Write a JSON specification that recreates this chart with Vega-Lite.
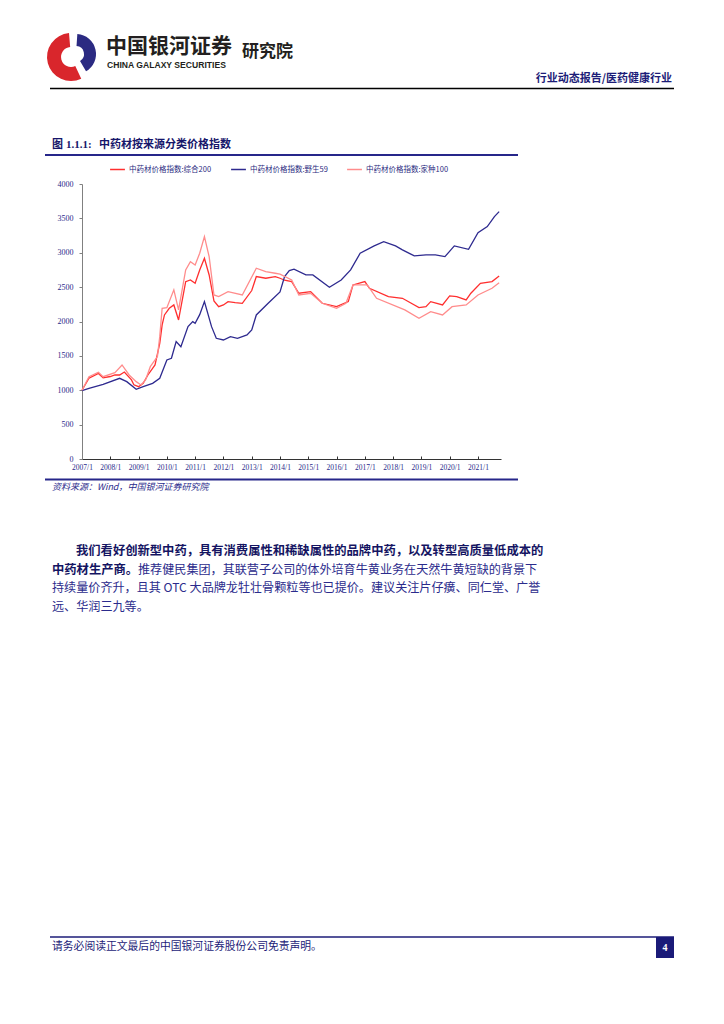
{
  "$schema": "https://vega.github.io/schema/vega-lite/v6.json",
  "width": 724,
  "height": 1024,
  "padding": 0,
  "autosize": "none",
  "background": "white",
  "config": {"view": {"stroke": null}},
  "data": {"values": [{}]},
  "layer": [
    {
      "mark": {"type": "arc", "innerRadius": 10, "outerRadius": 24, "theta": 2.7, "theta2": 6.2, "color": "#d9262c"},
      "encoding": {"x": {"value": 71}, "y": {"value": 57}}
    },
    {
      "mark": {"type": "arc", "innerRadius": 8, "outerRadius": 20, "theta": 6.35, "theta2": 8.9, "color": "#2b2a82"},
      "encoding": {"x": {"value": 76}, "y": {"value": 54}}
    },
    {
      "mark": {"type": "text", "text": "中国银河证券", "align": "left", "baseline": "middle", "font": "Noto Sans CJK SC", "fontSize": 21, "fontWeight": "bold", "color": "#231f20"},
      "encoding": {"x": {"value": 106}, "y": {"value": 47}}
    },
    {
      "mark": {"type": "text", "text": "研究院", "align": "left", "baseline": "middle", "font": "Noto Sans CJK SC", "fontSize": 17, "fontWeight": "bold", "color": "#231f20"},
      "encoding": {"x": {"value": 242}, "y": {"value": 52}}
    },
    {
      "mark": {"type": "text", "text": "CHINA GALAXY SECURITIES", "align": "left", "baseline": "middle", "font": "Liberation Sans", "fontSize": 8.6, "fontWeight": "bold", "color": "#231f20"},
      "encoding": {"x": {"value": 107}, "y": {"value": 64.5}}
    },
    {
      "mark": {"type": "text", "text": "行业动态报告/医药健康行业", "align": "right", "baseline": "middle", "font": "Noto Sans CJK SC", "fontSize": 11, "fontWeight": "bold", "color": "#1c1c78"},
      "encoding": {"x": {"value": 672}, "y": {"value": 79}}
    },
    {
      "mark": {"type": "rule", "color": "#000000", "strokeWidth": 1.5},
      "encoding": {"x": {"value": 50}, "x2": {"value": 674}, "y": {"value": 88.5}}
    },
    {
      "mark": {"type": "text", "text": "图", "align": "left", "baseline": "middle", "font": "Noto Sans CJK SC", "fontSize": 11, "fontWeight": "bold", "color": "#16166a"},
      "encoding": {"x": {"value": 52}, "y": {"value": 145}}
    },
    {
      "mark": {"type": "text", "text": "1.1.1:", "align": "left", "baseline": "middle", "font": "Liberation Serif", "fontSize": 11, "fontWeight": "bold", "color": "#16166a"},
      "encoding": {"x": {"value": 66}, "y": {"value": 145}}
    },
    {
      "mark": {"type": "text", "text": "中药材按来源分类价格指数", "align": "left", "baseline": "middle", "font": "Noto Sans CJK SC", "fontSize": 11, "fontWeight": "bold", "color": "#16166a"},
      "encoding": {"x": {"value": 99}, "y": {"value": 145}}
    },
    {
      "mark": {"type": "rule", "color": "#26268a", "strokeWidth": 2},
      "encoding": {"x": {"value": 45}, "x2": {"value": 518}, "y": {"value": 155}}
    },
    {
      "mark": {"type": "rule", "color": "#26268a", "strokeWidth": 2},
      "encoding": {"x": {"value": 45}, "x2": {"value": 518}, "y": {"value": 479.5}}
    },
    {
      "mark": {"type": "text", "text": "资料来源：Wind，中国银河证券研究院", "align": "left", "baseline": "middle", "font": "Noto Sans CJK SC", "fontSize": 9, "fontStyle": "italic", "color": "#2b2b8c"},
      "encoding": {"x": {"value": 52}, "y": {"value": 487}}
    },
    {
      "data": {
        "values": [
          {"date": "2007-01-01", "series": "中药材价格指数:综合200", "value": 1000},
          {"date": "2007-04-01", "series": "中药材价格指数:综合200", "value": 1174},
          {"date": "2007-08-01", "series": "中药材价格指数:综合200", "value": 1245},
          {"date": "2007-10-01", "series": "中药材价格指数:综合200", "value": 1180},
          {"date": "2008-01-01", "series": "中药材价格指数:综合200", "value": 1200},
          {"date": "2008-03-01", "series": "中药材价格指数:综合200", "value": 1222},
          {"date": "2008-05-01", "series": "中药材价格指数:综合200", "value": 1222},
          {"date": "2008-07-01", "series": "中药材价格指数:综合200", "value": 1265},
          {"date": "2008-10-01", "series": "中药材价格指数:综合200", "value": 1150},
          {"date": "2008-11-01", "series": "中药材价格指数:综合200", "value": 1080},
          {"date": "2009-01-01", "series": "中药材价格指数:综合200", "value": 1052},
          {"date": "2009-03-01", "series": "中药材价格指数:综合200", "value": 1100},
          {"date": "2009-05-01", "series": "中药材价格指数:综合200", "value": 1222},
          {"date": "2009-08-01", "series": "中药材价格指数:综合200", "value": 1368},
          {"date": "2009-10-01", "series": "中药材价格指数:综合200", "value": 1683},
          {"date": "2009-11-01", "series": "中药材价格指数:综合200", "value": 1950},
          {"date": "2009-12-01", "series": "中药材价格指数:综合200", "value": 2095},
          {"date": "2010-02-01", "series": "中药材价格指数:综合200", "value": 2192},
          {"date": "2010-04-01", "series": "中药材价格指数:综合200", "value": 2241},
          {"date": "2010-06-01", "series": "中药材价格指数:综合200", "value": 2022},
          {"date": "2010-09-01", "series": "中药材价格指数:综合200", "value": 2580},
          {"date": "2010-11-01", "series": "中药材价格指数:综合200", "value": 2604},
          {"date": "2011-01-01", "series": "中药材价格指数:综合200", "value": 2556},
          {"date": "2011-03-01", "series": "中药材价格指数:综合200", "value": 2750},
          {"date": "2011-05-01", "series": "中药材价格指数:综合200", "value": 2920},
          {"date": "2011-07-01", "series": "中药材价格指数:综合200", "value": 2677},
          {"date": "2011-09-01", "series": "中药材价格指数:综合200", "value": 2300},
          {"date": "2011-11-01", "series": "中药材价格指数:综合200", "value": 2216},
          {"date": "2012-01-01", "series": "中药材价格指数:综合200", "value": 2241},
          {"date": "2012-03-01", "series": "中药材价格指数:综合200", "value": 2289},
          {"date": "2012-06-01", "series": "中药材价格指数:综合200", "value": 2275},
          {"date": "2012-09-01", "series": "中药材价格指数:综合200", "value": 2265},
          {"date": "2013-01-01", "series": "中药材价格指数:综合200", "value": 2450},
          {"date": "2013-03-01", "series": "中药材价格指数:综合200", "value": 2653},
          {"date": "2013-07-01", "series": "中药材价格指数:综合200", "value": 2629},
          {"date": "2013-11-01", "series": "中药材价格指数:综合200", "value": 2653},
          {"date": "2014-01-01", "series": "中药材价格指数:综合200", "value": 2629},
          {"date": "2014-03-01", "series": "中药材价格指数:综合200", "value": 2600},
          {"date": "2014-06-01", "series": "中药材价格指数:综合200", "value": 2580},
          {"date": "2014-09-01", "series": "中药材价格指数:综合200", "value": 2411},
          {"date": "2015-02-01", "series": "中药材价格指数:综合200", "value": 2435},
          {"date": "2015-07-01", "series": "中药材价格指数:综合200", "value": 2265},
          {"date": "2016-01-01", "series": "中药材价格指数:综合200", "value": 2216},
          {"date": "2016-06-01", "series": "中药材价格指数:综合200", "value": 2289},
          {"date": "2016-08-01", "series": "中药材价格指数:综合200", "value": 2532},
          {"date": "2017-01-01", "series": "中药材价格指数:综合200", "value": 2580},
          {"date": "2017-03-01", "series": "中药材价格指数:综合200", "value": 2483},
          {"date": "2017-11-01", "series": "中药材价格指数:综合200", "value": 2362},
          {"date": "2018-05-01", "series": "中药材价格指数:综合200", "value": 2338},
          {"date": "2018-12-01", "series": "中药材价格指数:综合200", "value": 2202},
          {"date": "2019-03-01", "series": "中药材价格指数:综合200", "value": 2216},
          {"date": "2019-05-01", "series": "中药材价格指数:综合200", "value": 2289},
          {"date": "2019-10-01", "series": "中药材价格指数:综合200", "value": 2241},
          {"date": "2020-01-01", "series": "中药材价格指数:综合200", "value": 2372},
          {"date": "2020-04-01", "series": "中药材价格指数:综合200", "value": 2362},
          {"date": "2020-08-01", "series": "中药材价格指数:综合200", "value": 2313},
          {"date": "2020-10-01", "series": "中药材价格指数:综合200", "value": 2411},
          {"date": "2021-02-01", "series": "中药材价格指数:综合200", "value": 2556},
          {"date": "2021-07-01", "series": "中药材价格指数:综合200", "value": 2580},
          {"date": "2021-10-01", "series": "中药材价格指数:综合200", "value": 2663},
          {"date": "2007-01-01", "series": "中药材价格指数:野生59", "value": 994},
          {"date": "2007-04-01", "series": "中药材价格指数:野生59", "value": 1028},
          {"date": "2007-10-01", "series": "中药材价格指数:野生59", "value": 1086},
          {"date": "2008-05-01", "series": "中药材价格指数:野生59", "value": 1174},
          {"date": "2008-08-01", "series": "中药材价格指数:野生59", "value": 1125},
          {"date": "2008-12-01", "series": "中药材价格指数:野生59", "value": 1014},
          {"date": "2009-03-01", "series": "中药材价格指数:野生59", "value": 1052},
          {"date": "2009-07-01", "series": "中药材价格指数:野生59", "value": 1101},
          {"date": "2009-10-01", "series": "中药材价格指数:野生59", "value": 1174},
          {"date": "2010-01-01", "series": "中药材价格指数:野生59", "value": 1440},
          {"date": "2010-03-01", "series": "中药材价格指数:野生59", "value": 1465},
          {"date": "2010-05-01", "series": "中药材价格指数:野生59", "value": 1707},
          {"date": "2010-07-01", "series": "中药材价格指数:野生59", "value": 1634},
          {"date": "2010-10-01", "series": "中药材价格指数:野生59", "value": 1925},
          {"date": "2010-12-01", "series": "中药材价格指数:野生59", "value": 1998},
          {"date": "2011-01-01", "series": "中药材价格指数:野生59", "value": 1974},
          {"date": "2011-03-01", "series": "中药材价格指数:野生59", "value": 2100},
          {"date": "2011-05-01", "series": "中药材价格指数:野生59", "value": 2289},
          {"date": "2011-08-01", "series": "中药材价格指数:野生59", "value": 1925},
          {"date": "2011-10-01", "series": "中药材价格指数:野生59", "value": 1756},
          {"date": "2012-01-01", "series": "中药材价格指数:野生59", "value": 1731},
          {"date": "2012-04-01", "series": "中药材价格指数:野生59", "value": 1780},
          {"date": "2012-07-01", "series": "中药材价格指数:野生59", "value": 1756},
          {"date": "2012-11-01", "series": "中药材价格指数:野生59", "value": 1804},
          {"date": "2013-01-01", "series": "中药材价格指数:野生59", "value": 1877},
          {"date": "2013-03-01", "series": "中药材价格指数:野生59", "value": 2095},
          {"date": "2013-08-01", "series": "中药材价格指数:野生59", "value": 2265},
          {"date": "2014-01-01", "series": "中药材价格指数:野生59", "value": 2430},
          {"date": "2014-03-01", "series": "中药材价格指数:野生59", "value": 2653},
          {"date": "2014-05-01", "series": "中药材价格指数:野生59", "value": 2740},
          {"date": "2014-07-01", "series": "中药材价格指数:野生59", "value": 2760},
          {"date": "2014-12-01", "series": "中药材价格指数:野生59", "value": 2677},
          {"date": "2015-03-01", "series": "中药材价格指数:野生59", "value": 2677},
          {"date": "2015-10-01", "series": "中药材价格指数:野生59", "value": 2498},
          {"date": "2016-03-01", "series": "中药材价格指数:野生59", "value": 2604},
          {"date": "2016-07-01", "series": "中药材价格指数:野生59", "value": 2750},
          {"date": "2016-11-01", "series": "中药材价格指数:野生59", "value": 2993},
          {"date": "2017-05-01", "series": "中药材价格指数:野生59", "value": 3099},
          {"date": "2017-09-01", "series": "中药材价格指数:野生59", "value": 3162},
          {"date": "2018-02-01", "series": "中药材价格指数:野生59", "value": 3099},
          {"date": "2018-05-01", "series": "中药材价格指数:野生59", "value": 3041},
          {"date": "2018-10-01", "series": "中药材价格指数:野生59", "value": 2954},
          {"date": "2019-03-01", "series": "中药材价格指数:野生59", "value": 2968},
          {"date": "2019-07-01", "series": "中药材价格指数:野生59", "value": 2968},
          {"date": "2019-11-01", "series": "中药材价格指数:野生59", "value": 2943},
          {"date": "2020-03-01", "series": "中药材价格指数:野生59", "value": 3099},
          {"date": "2020-09-01", "series": "中药材价格指数:野生59", "value": 3050},
          {"date": "2021-01-01", "series": "中药材价格指数:野生59", "value": 3293},
          {"date": "2021-05-01", "series": "中药材价格指数:野生59", "value": 3380},
          {"date": "2021-08-01", "series": "中药材价格指数:野生59", "value": 3525},
          {"date": "2021-10-01", "series": "中药材价格指数:野生59", "value": 3599},
          {"date": "2007-01-01", "series": "中药材价格指数:家种100", "value": 1000},
          {"date": "2007-04-01", "series": "中药材价格指数:家种100", "value": 1198},
          {"date": "2007-08-01", "series": "中药材价格指数:家种100", "value": 1260},
          {"date": "2007-10-01", "series": "中药材价格指数:家种100", "value": 1198},
          {"date": "2008-03-01", "series": "中药材价格指数:家种100", "value": 1257},
          {"date": "2008-06-01", "series": "中药材价格指数:家种100", "value": 1368},
          {"date": "2008-09-01", "series": "中药材价格指数:家种100", "value": 1222},
          {"date": "2008-12-01", "series": "中药材价格指数:家种100", "value": 1125},
          {"date": "2009-02-01", "series": "中药材价格指数:家种100", "value": 1077},
          {"date": "2009-04-01", "series": "中药材价格指数:家种100", "value": 1149},
          {"date": "2009-06-01", "series": "中药材价格指数:家种100", "value": 1343},
          {"date": "2009-09-01", "series": "中药材价格指数:家种100", "value": 1489},
          {"date": "2009-10-01", "series": "中药材价格指数:家种100", "value": 1780},
          {"date": "2009-11-01", "series": "中药材价格指数:家种100", "value": 2192},
          {"date": "2010-01-01", "series": "中药材价格指数:家种100", "value": 2200},
          {"date": "2010-04-01", "series": "中药材价格指数:家种100", "value": 2460},
          {"date": "2010-06-01", "series": "中药材价格指数:家种100", "value": 2168},
          {"date": "2010-09-01", "series": "中药材价格指数:家种100", "value": 2750},
          {"date": "2010-11-01", "series": "中药材价格指数:家种100", "value": 2871},
          {"date": "2011-01-01", "series": "中药材价格指数:家种100", "value": 2823},
          {"date": "2011-03-01", "series": "中药材价格指数:家种100", "value": 2993},
          {"date": "2011-05-01", "series": "中药材价格指数:家种100", "value": 3234},
          {"date": "2011-07-01", "series": "中药材价格指数:家种100", "value": 2943},
          {"date": "2011-09-01", "series": "中药材价格指数:家种100", "value": 2386},
          {"date": "2011-11-01", "series": "中药材价格指数:家种100", "value": 2362},
          {"date": "2012-03-01", "series": "中药材价格指数:家种100", "value": 2435},
          {"date": "2012-09-01", "series": "中药材价格指数:家种100", "value": 2386},
          {"date": "2013-03-01", "series": "中药材价格指数:家种100", "value": 2775},
          {"date": "2013-07-01", "series": "中药材价格指数:家种100", "value": 2726},
          {"date": "2013-11-01", "series": "中药材价格指数:家种100", "value": 2702},
          {"date": "2014-01-01", "series": "中药材价格指数:家种100", "value": 2690},
          {"date": "2014-06-01", "series": "中药材价格指数:家种100", "value": 2604},
          {"date": "2014-09-01", "series": "中药材价格指数:家种100", "value": 2386},
          {"date": "2015-02-01", "series": "中药材价格指数:家种100", "value": 2411},
          {"date": "2015-07-01", "series": "中药材价格指数:家种100", "value": 2265},
          {"date": "2016-01-01", "series": "中药材价格指数:家种100", "value": 2192},
          {"date": "2016-05-01", "series": "中药材价格指数:家种100", "value": 2265},
          {"date": "2016-08-01", "series": "中药材价格指数:家种100", "value": 2532},
          {"date": "2017-02-01", "series": "中药材价格指数:家种100", "value": 2532},
          {"date": "2017-06-01", "series": "中药材价格指数:家种100", "value": 2338},
          {"date": "2018-06-01", "series": "中药材价格指数:家种100", "value": 2168},
          {"date": "2018-12-01", "series": "中药材价格指数:家种100", "value": 2047},
          {"date": "2019-05-01", "series": "中药材价格指数:家种100", "value": 2143},
          {"date": "2019-10-01", "series": "中药材价格指数:家种100", "value": 2095},
          {"date": "2020-02-01", "series": "中药材价格指数:家种100", "value": 2216},
          {"date": "2020-08-01", "series": "中药材价格指数:家种100", "value": 2241},
          {"date": "2021-01-01", "series": "中药材价格指数:家种100", "value": 2386},
          {"date": "2021-07-01", "series": "中药材价格指数:家种100", "value": 2483},
          {"date": "2021-10-01", "series": "中药材价格指数:家种100", "value": 2565}
        ]
      },
      "mark": {"type": "line", "strokeWidth": 1.3},
      "encoding": {
        "x": {
          "field": "date",
          "type": "temporal",
          "scale": {
            "type": "utc",
            "domain": [{"year": 2007, "month": 1, "date": 1, "utc": true}, {"year": 2021, "month": 10, "date": 25, "utc": true}],
            "range": [82, 501]
          },
          "axis": {
            "orient": "bottom",
            "offset": -565,
            "title": null,
            "grid": false,
            "labelExpr": "utcFormat(datum.value, '%Y') + '/' + (utcmonth(datum.value) + 1)",
            "values": [
              {"year": 2007, "month": 1, "date": 1, "utc": true},
              {"year": 2008, "month": 1, "date": 1, "utc": true},
              {"year": 2009, "month": 1, "date": 1, "utc": true},
              {"year": 2010, "month": 1, "date": 1, "utc": true},
              {"year": 2011, "month": 1, "date": 1, "utc": true},
              {"year": 2012, "month": 1, "date": 1, "utc": true},
              {"year": 2013, "month": 1, "date": 1, "utc": true},
              {"year": 2014, "month": 1, "date": 1, "utc": true},
              {"year": 2015, "month": 1, "date": 1, "utc": true},
              {"year": 2016, "month": 1, "date": 1, "utc": true},
              {"year": 2017, "month": 1, "date": 1, "utc": true},
              {"year": 2018, "month": 1, "date": 1, "utc": true},
              {"year": 2019, "month": 1, "date": 1, "utc": true},
              {"year": 2020, "month": 1, "date": 1, "utc": true},
              {"year": 2021, "month": 1, "date": 1, "utc": true}
            ],
            "domainColor": "#333333",
            "domainWidth": 1.2,
            "tickColor": "#333333",
            "tickSize": -3,
            "labelPadding": 7,
            "labelFont": "Liberation Serif",
            "labelFontSize": 7.5,
            "labelColor": "#2a2a8a",
            "labelFlush": false,
            "labelOverlap": false
          }
        },
        "y": {
          "field": "value",
          "type": "quantitative",
          "scale": {"domain": [0, 4000], "range": [459, 184], "nice": false, "zero": true},
          "axis": {
            "orient": "left",
            "offset": -82,
            "title": null,
            "grid": false,
            "values": [0, 500, 1000, 1500, 2000, 2500, 3000, 3500, 4000],
            "format": "d",
            "domainColor": "#808080",
            "tickColor": "#808080",
            "tickSize": 3,
            "labelPadding": 6,
            "labelFont": "Liberation Serif",
            "labelFontSize": 8,
            "labelColor": "#2a2a8a"
          }
        },
        "color": {
          "field": "series",
          "type": "nominal",
          "scale": {
            "domain": ["中药材价格指数:综合200", "中药材价格指数:野生59", "中药材价格指数:家种100"],
            "range": ["#ff2f2f", "#2e2a8f", "#ff8c8c"]
          },
          "legend": {
            "orient": "none",
            "legendX": 109,
            "legendY": 161,
            "direction": "horizontal",
            "title": null,
            "symbolType": "stroke",
            "symbolSize": 220,
            "symbolStrokeWidth": 1.5,
            "labelFont": "Noto Sans CJK SC",
            "labelFontSize": 7.5,
            "labelColor": "#2a2a80",
            "labelOffset": 3,
            "columnPadding": 16,
            "labelLimit": 200
          }
        }
      }
    },
    {
      "mark": {"type": "text", "text": "我们看好创新型中药，具有消费属性和稀缺属性的品牌中药，以及转型高质量低成本的", "align": "left", "baseline": "middle", "font": "Noto Sans CJK SC", "fontSize": 12.3, "fontWeight": "bold", "color": "#141462"},
      "encoding": {"x": {"value": 76}, "y": {"value": 550.5}}
    },
    {
      "mark": {"type": "text", "text": "中药材生产商。", "align": "left", "baseline": "middle", "font": "Noto Sans CJK SC", "fontSize": 12.3, "fontWeight": "bold", "color": "#141462"},
      "encoding": {"x": {"value": 52}, "y": {"value": 569.5}}
    },
    {
      "mark": {"type": "text", "text": "推荐健民集团，其联营子公司的体外培育牛黄业务在天然牛黄短缺的背景下", "align": "left", "baseline": "middle", "font": "Noto Sans CJK SC", "fontSize": 12.1, "color": "#2b2b8c"},
      "encoding": {"x": {"value": 138}, "y": {"value": 569.5}}
    },
    {
      "mark": {"type": "text", "text": "持续量价齐升，且其 OTC 大品牌龙牡壮骨颗粒等也已提价。建议关注片仔癀、同仁堂、广誉", "align": "left", "baseline": "middle", "font": "Noto Sans CJK SC", "fontSize": 12.1, "color": "#2b2b8c"},
      "encoding": {"x": {"value": 52}, "y": {"value": 588}}
    },
    {
      "mark": {"type": "text", "text": "远、华润三九等。", "align": "left", "baseline": "middle", "font": "Noto Sans CJK SC", "fontSize": 12.1, "color": "#2b2b8c"},
      "encoding": {"x": {"value": 52}, "y": {"value": 607}}
    },
    {
      "mark": {"type": "rule", "color": "#1c1c78", "strokeWidth": 1.5},
      "encoding": {"x": {"value": 50}, "x2": {"value": 674}, "y": {"value": 937}}
    },
    {
      "mark": {"type": "rect", "color": "#1a1a78"},
      "encoding": {"x": {"value": 656}, "x2": {"value": 674}, "y": {"value": 937}, "y2": {"value": 958}}
    },
    {
      "mark": {"type": "text", "text": "4", "align": "center", "baseline": "middle", "font": "Liberation Serif", "fontSize": 10, "fontWeight": "bold", "color": "#ffffff"},
      "encoding": {"x": {"value": 665}, "y": {"value": 947.5}}
    },
    {
      "mark": {"type": "text", "text": "请务必阅读正文最后的中国银河证券股份公司免责声明。", "align": "left", "baseline": "middle", "font": "Noto Sans CJK SC", "fontSize": 10.8, "color": "#1c1c78"},
      "encoding": {"x": {"value": 52}, "y": {"value": 947}}
    }
  ]
}
